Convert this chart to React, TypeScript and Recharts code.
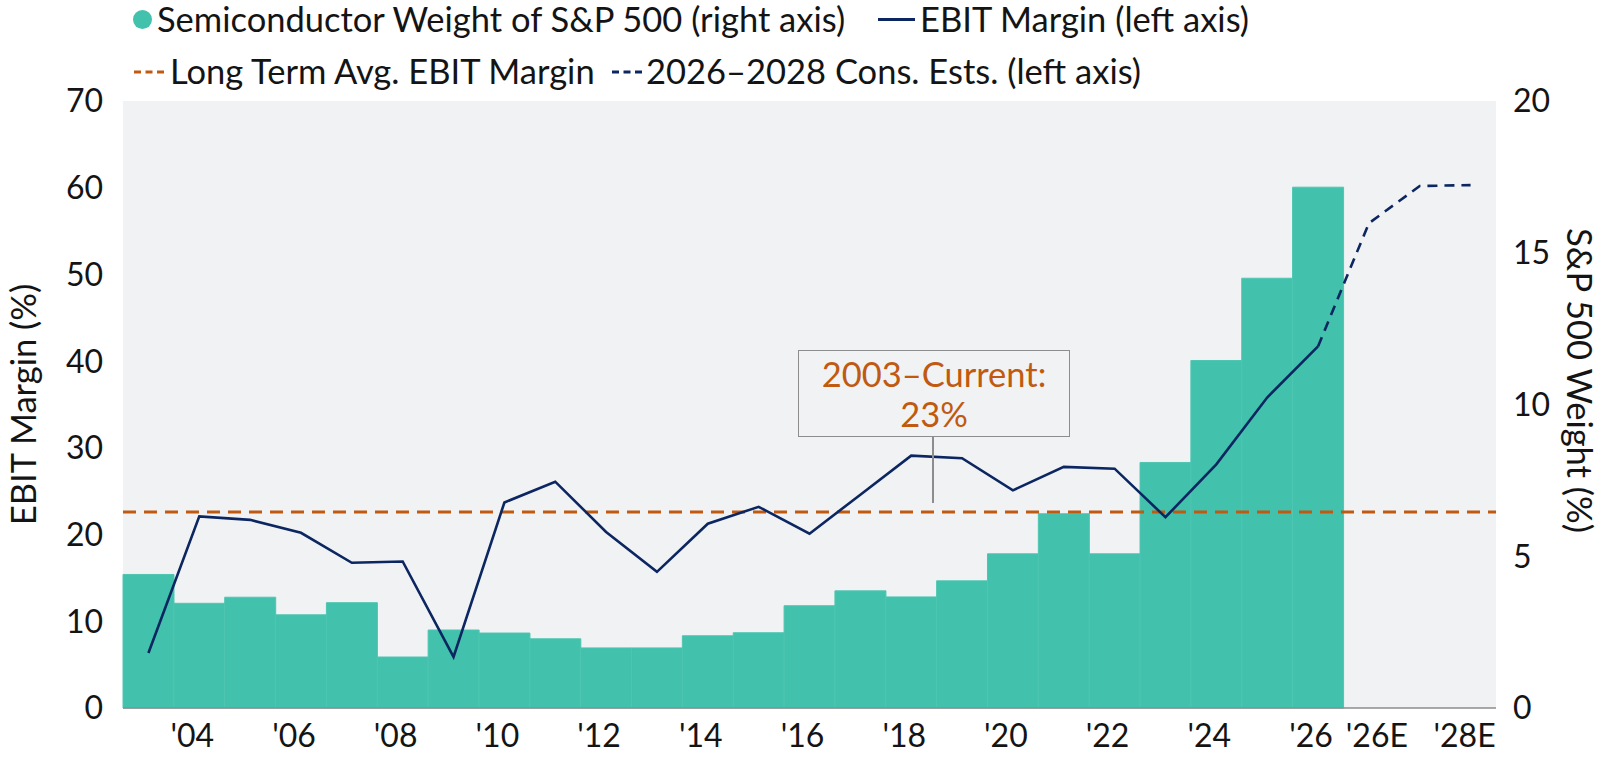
import React from "react";
import { ComposedChart, Bar, Line, XAxis, YAxis, CartesianGrid, ReferenceLine, Label } from "recharts";

const C = {
  teal: "#42C1AC", bg: "#F1F2F4", navy: "#0B2660", orange: "#C05A10",
  text: "#141414", axis: "#8C8C8C", box: "#8D8D8D",
} as const;

const FONT = "Lato, 'Open Sans', sans-serif";
const TEXT_SIZE = 34.5;

const years = [
  "2003", "2004", "2005", "2006", "2007", "2008", "2009", "2010", "2011", "2012",
  "2013", "2014", "2015", "2016", "2017", "2018", "2019", "2020", "2021", "2022",
  "2023", "2024", "2025", "2026", "2026E", "2027E", "2028E",
];

// Semiconductor weight of S&P 500 (right axis, %)
const semiWeight = [
  4.4, 3.45, 3.65, 3.07, 3.47, 1.68, 2.57, 2.47, 2.28, 1.98,
  1.98, 2.38, 2.48, 3.37, 3.86, 3.66, 4.19, 5.08, 6.4, 5.08,
  8.09, 11.45, 14.16, 17.16, null, null, null,
];

// EBIT margin (left axis, %)
const ebitMargin = [
  6.35, 22.1, 21.7, 20.2, 16.75, 16.9, 5.9, 23.7, 26.1, 20.3,
  15.7, 21.25, 23.2, 20.1, 24.6, 29.1, 28.8, 25.1, 27.8, 27.6,
  22.0, 28.1, 35.8, 41.7, null, null, null,
];

// 2026-2028 consensus estimates (left axis, %)
const consEst = [
  null, null, null, null, null, null, null, null, null, null,
  null, null, null, null, null, null, null, null, null, null,
  null, null, null, 41.7, 55.9, 60.2, 60.3,
];

const longTermAvg = 22.6;
const leftTicks = [0, 10, 20, 30, 40, 50, 60, 70];
const rightTicks = [0, 5, 10, 15, 20];
const xTicks = [
  "2004", "2006", "2008", "2010", "2012", "2014", "2016", "2018", "2020",
  "2022", "2024", "2026", "2026E", "2028E",
];

const data = years.map((y, i) => ({
  year: y,
  weight: semiWeight[i],
  ebit: ebitMargin[i],
  est: consEst[i],
}));

const tickStyle = { fill: C.text, fontSize: 32, fontFamily: FONT };

function XTick(props: any) {
  const { x, y, payload } = props;
  const v: string = payload.value;
  if (!xTicks.includes(v)) return null;
  const dx = v === "2026E" ? 8 : v === "2028E" ? -6 : -7;
  return (
    <text x={x + dx} y={y} dy="0.71em" textAnchor="middle" fill={C.text} fontSize={32} fontFamily={FONT}>
      {"'" + v.slice(2)}
    </text>
  );
}

function axisTitle(text: string, side: "left" | "right") {
  return (props: any) => {
    const { x, y, width, height } = props.viewBox;
    const cx = side === "left" ? x + 22 : x + width - 20;
    const cy = y + height / 2 + (side === "right" ? -24 : 0);
    const angle = side === "left" ? -90 : 90;
    return (
      <text x={cx} y={cy} transform={`rotate(${angle} ${cx} ${cy})`} textAnchor="middle"
        dominantBaseline="central" fill={C.text} fontSize={TEXT_SIZE} fontFamily={FONT}>
        {text}
      </text>
    );
  };
}

function Dashes({ color }: { color: string }) {
  return (
    <svg width={30} height={6} style={{ display: "block" }}>
      <line x1={0} y1={3} x2={30} y2={3} stroke={color} strokeWidth={3} strokeDasharray="7 4.5" />
    </svg>
  );
}

const legendText: React.CSSProperties = {
  position: "absolute", fontSize: TEXT_SIZE, fontFamily: FONT, color: C.text, lineHeight: "40px", whiteSpace: "nowrap",
};

export default function App() {
  return (
    <div style={{ position: "absolute", left: 0, top: 0, width: 1600, height: 757, background: "#fff", fontFamily: FONT }}>
      {/* legend */}
      <div style={{ position: "absolute", left: 133, top: 10, width: 19, height: 19, borderRadius: 10, background: C.teal }} />
      <div style={{ ...legendText, left: 157, top: -1 }}>Semiconductor Weight of S&amp;P 500 (right axis)</div>
      <div style={{ position: "absolute", left: 878, top: 18, width: 37, height: 3, background: C.navy }} />
      <div style={{ ...legendText, left: 920, top: -1 }}>EBIT Margin (left axis)</div>
      <div style={{ position: "absolute", left: 134, top: 69 }}><Dashes color={C.orange} /></div>
      <div style={{ ...legendText, left: 170, top: 51 }}>Long Term Avg. EBIT Margin</div>
      <div style={{ position: "absolute", left: 612, top: 69 }}><Dashes color={C.navy} /></div>
      <div style={{ ...legendText, left: 646, top: 51 }}>2026–2028 Cons. Ests. (left axis)</div>

      <ComposedChart width={1600} height={757} data={data} barCategoryGap={0}
        margin={{ top: 101, right: 0, bottom: 0, left: 0 }}>
        <CartesianGrid yAxisId="left" horizontal={false} vertical={false} fill={C.bg} />
        <XAxis dataKey="year" interval={0} height={49} tickLine={false} tickSize={0} tickMargin={16}
          axisLine={{ stroke: C.axis, strokeWidth: 1.5 }} tick={<XTick />} />
        <YAxis yAxisId="left" width={123} domain={[0, 70]} ticks={leftTicks} tickLine={false}
          tickSize={0} tickMargin={20} axisLine={false} tick={tickStyle}>
          <Label content={axisTitle("EBIT Margin (%)", "left")} />
        </YAxis>
        <YAxis yAxisId="right" orientation="right" width={104} domain={[0, 20]} ticks={rightTicks}
          tickLine={false} tickSize={0} tickMargin={17} axisLine={false} tick={tickStyle}>
          <Label content={axisTitle("S&P 500 Weight (%)", "right")} />
        </YAxis>
        <Bar yAxisId="right" dataKey="weight" fill={C.teal} stroke="#4EC6B2" strokeWidth={1}
          isAnimationActive={false} />
        <ReferenceLine yAxisId="left" y={longTermAvg} stroke={C.orange} strokeWidth={3}
          strokeDasharray="13 8" />
        <Line yAxisId="left" type="linear" dataKey="ebit" stroke={C.navy} strokeWidth={2.6}
          dot={false} activeDot={false} isAnimationActive={false} />
        <Line yAxisId="left" type="linear" dataKey="est" stroke={C.navy} strokeWidth={2.6}
          strokeDasharray="10 7" dot={false} activeDot={false} isAnimationActive={false} />
      </ComposedChart>

      {/* annotation */}
      <div style={{
        position: "absolute", left: 798, top: 350, width: 272, height: 87, boxSizing: "border-box",
        border: `1.5px solid ${C.box}`, color: C.orange, fontSize: TEXT_SIZE, textAlign: "center",
        lineHeight: "40px", paddingTop: 3, whiteSpace: "nowrap",
      }}>
        2003–Current:<br />23%
      </div>
      <div style={{ position: "absolute", left: 932, top: 437, width: 1.5, height: 66, background: C.box }} />
    </div>
  );
}
